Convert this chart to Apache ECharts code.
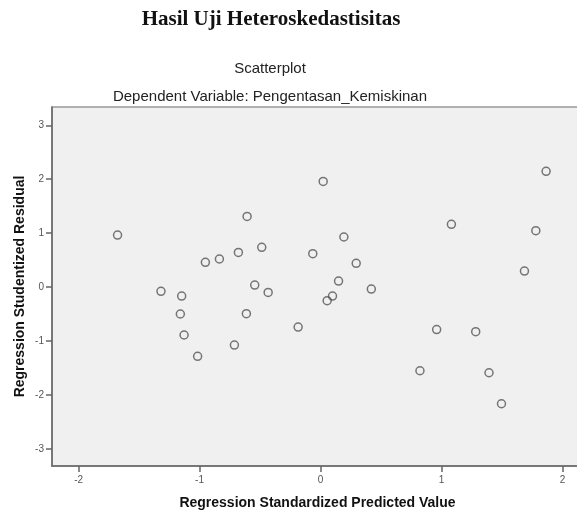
<!DOCTYPE html>
<html>
<head>
<meta charset="utf-8">
<script src="https://cdn.jsdelivr.net/npm/echarts@6/dist/echarts.min.js"></script>
<style>
  html, body { margin: 0; padding: 0; background: #fff; }
  #chart { width: 577px; height: 511px; }
</style>
</head>
<body>
<div id="chart"></div>
<script>
// Regression standardized predicted value (x) vs studentized residual (y)
const predicted = [
  -1.678, -1.319, -1.148, -1.159, -1.128, -1.016, -0.952, -0.836, -0.712, -0.679,
  -0.607, -0.486, -0.544, -0.433, -0.613, -0.185, -0.064, 0.022, 0.055, 0.099,
  0.149, 0.193, 0.295, 0.420, 0.822, 0.960, 1.082, 1.283, 1.393, 1.496,
  1.686, 1.780, 1.865
];
const residual = [
  0.965, -0.080, -0.167, -0.500, -0.890, -1.286, 0.458, 0.520, -1.076, 0.643,
  1.310, 0.736, 0.037, -0.099, -0.495, -0.742, 0.618, 1.960, -0.254, -0.167,
  0.111, 0.928, 0.440, -0.037, -1.553, -0.790, 1.163, -0.829, -1.590, -2.165,
  0.297, 1.045, 2.146
];
const xTicks = [-2, -1, 0, 1, 2];
const yTicks = [-3, -2, -1, 0, 1, 2, 3];

const points = predicted.map((v, i) => [v, residual[i]]);

const chart = echarts.init(document.getElementById('chart'));

const option = {
  animation: false,
  backgroundColor: '#fff',
  title: [
    {
      text: 'Hasil Uji Heteroskedastisitas',
      left: 266, top: 4, textAlign: 'center',
      textStyle: { fontFamily: 'Liberation Serif', fontWeight: 'bold', fontSize: 21, color: '#111' }
    },
    {
      text: 'Scatterplot',
      left: 265, top: 56, textAlign: 'center',
      textStyle: { fontFamily: 'Liberation Sans', fontWeight: 'normal', fontSize: 15, color: '#222' }
    },
    {
      text: 'Dependent Variable: Pengentasan_Kemiskinan',
      left: 265, top: 84, textAlign: 'center',
      textStyle: { fontFamily: 'Liberation Sans', fontWeight: 'normal', fontSize: 15, color: '#222' }
    }
  ],
  grid: {
    left: 52, top: 107, right: -6, bottom: 45,
    outerBoundsMode: 'none',
    show: true,
    backgroundColor: '#f0f0f0',
    borderColor: '#999',
    borderWidth: 1.5
  },
  xAxis: {
    type: 'value',
    min: -2.22, max: 2.17,
    splitLine: { show: false },
    axisLine: { show: true, onZero: false, lineStyle: { color: '#666', width: 1.5 } },
    axisTick: { show: true, length: 6, customValues: xTicks, lineStyle: { color: '#666', width: 1.5 } },
    axisLabel: {
      customValues: xTicks, showMinLabel: true, showMaxLabel: true,
      fontFamily: 'Liberation Sans', fontSize: 10, color: '#555', margin: 9
    },
    name: 'Regression Standardized Predicted Value',
    nameLocation: 'middle', nameGap: 30,
    nameTextStyle: { fontFamily: 'Liberation Sans', fontWeight: 'bold', fontSize: 14, color: '#111' }
  },
  yAxis: {
    type: 'value',
    min: -3.32, max: 3.34,
    splitLine: { show: false },
    axisLine: { show: true, onZero: false, lineStyle: { color: '#666', width: 1.5 } },
    axisTick: { show: true, length: 6, customValues: yTicks, lineStyle: { color: '#666', width: 1.5 } },
    axisLabel: {
      customValues: yTicks, showMinLabel: true, showMaxLabel: true,
      fontFamily: 'Liberation Sans', fontSize: 10, color: '#555', margin: 8
    },
    name: 'Regression Studentized Residual',
    nameLocation: 'middle', nameGap: 25, nameMoveOverlap: false,
    nameTextStyle: { fontFamily: 'Liberation Sans', fontWeight: 'bold', fontSize: 14, color: '#111' }
  },
  series: [
    {
      type: 'scatter',
      data: points,
      symbol: 'circle',
      symbolSize: 8,
      itemStyle: { color: 'rgba(0,0,0,0)', borderColor: '#555', borderWidth: 1.5 }
    }
  ]
};

chart.setOption(option);
</script>
</body>
</html>
